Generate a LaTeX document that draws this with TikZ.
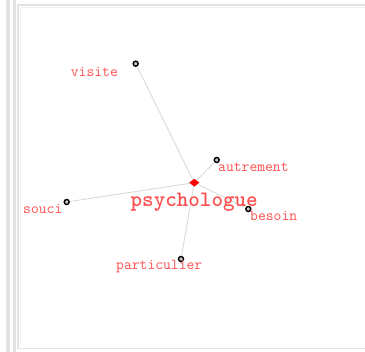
\documentclass[tikz,border=0pt]{standalone}
\usepackage{fontspec}
\usetikzlibrary{shapes.geometric}
\definecolor{lbl}{RGB}{255,80,80}
\definecolor{edgec}{RGB}{215,215,215}
\definecolor{framec}{RGB}{226,226,226}
\tikzset{
  word/.style={text=lbl, font=\ttfamily\fontsize{15.2}{15.2}\selectfont, inner sep=0pt, anchor=base west},
  mainword/.style={text=lbl, font=\ttfamily\bfseries\fontsize{22}{22}\selectfont, inner sep=0pt, anchor=base west},
  dotnode/.style={circle, draw=black, fill=gray!45, line width=1.4pt, minimum size=5pt, inner sep=0pt},
  hub/.style={diamond, fill=red, minimum width=10.5pt, minimum height=8pt, inner sep=0pt},
  link/.style={draw=edgec, line width=0.8pt}
}
\begin{document}
\begin{tikzpicture}[x=1pt,y=-1pt]
\useasboundingbox (0,0) rectangle (365,352);
\fill[white] (0,0) rectangle (365,352);
% frame
\fill[framec] (6,0) rectangle (9.5,352);
\fill[framec] (13,0) rectangle (16,352);
\draw[framec, line width=1.6pt] (380,5) -- (17.8,5) -- (17.8,348.5) -- (380,348.5);
\draw[framec!50, line width=0.8pt] (380,7) -- (20,7) -- (20,346.5);
% nodes
\node[hub] (c) at (194.3,182.7) {};
\node[dotnode] (dv) at (135.7,63.7) {};
\node[dotnode] (da) at (216.7,160) {};
\node[dotnode] (ds) at (66.7,202) {};
\node[dotnode] (db) at (248.3,209) {};
\node[dotnode] (dp) at (181,259) {};
% edges
\draw[link] (c) -- (dv);
\draw[link] (c) -- (da);
\draw[link] (c) -- (ds);
\draw[link] (c) -- (db);
\draw[link] (c) -- (dp);
% labels
\node[word] (lv) at (70.7,77) {visite};
\node[word] (la) at (218,171.5) {autrement};
\node[mainword] (lc) at (130.5,206.5) {psychologue};
\node[word] (ls) at (23,214) {souci};
\node[word] (lb) at (250,221) {besoin};
\node[word] (lp) at (116,270) {particulier};
\end{tikzpicture}
\end{document}
